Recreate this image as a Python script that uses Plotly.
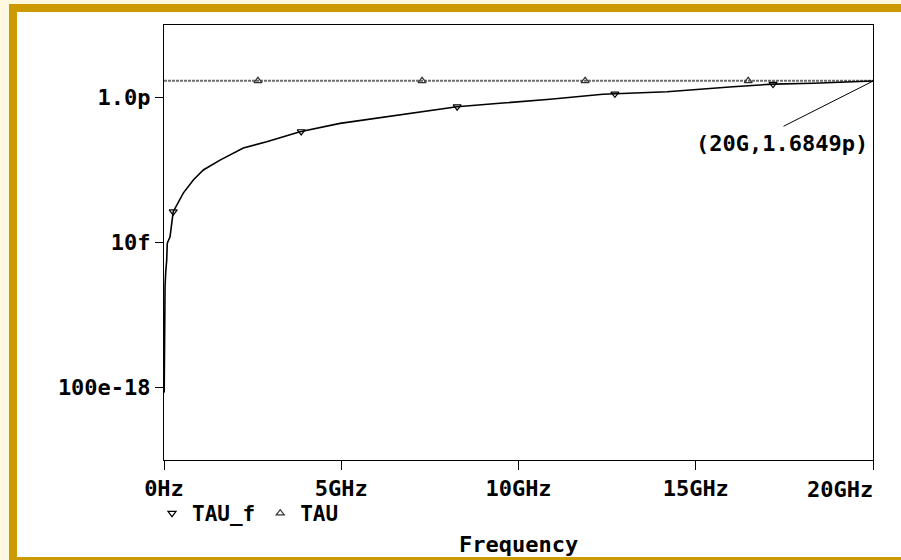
import numpy as np
import plotly.graph_objects as go

# ---------------- data ----------------
tauf_ghz = [0.005, 0.015, 0.03, 0.05, 0.076, 0.093, 0.17, 0.26, 0.544, 0.827, 1.109,
            1.58, 2.237, 2.897, 3.836, 4.965, 5.61, 6.94, 8.265, 9.56, 10.89,
            12.38, 14.19, 16.05, 17.18, 18.31, 20.0]
tauf_vals = [8.5e-17, 9.0e-16, 2.5e-15, 4.0e-15, 5.7e-15, 9.8e-15, 1.2e-14, 2.66e-14,
             4.8e-14, 7.3e-14, 1.0e-13, 1.37e-13, 2.01e-13, 2.46e-13, 3.37e-13,
             4.4e-13, 4.9e-13, 6.1e-13, 7.46e-13, 8.4e-13, 9.45e-13, 1.107e-12,
             1.20e-12, 1.41e-12, 1.53e-12, 1.57e-12, 1.6849e-12]
tau_ghz = [0.0, 20.0]
tau_vals = [1.70e-12, 1.70e-12]
tauf_marker_ghz = [0.26, 3.87, 8.27, 12.72, 17.18]
tau_marker_ghz = [2.65, 7.28, 11.88, 16.48]

x_tickvals_ghz = [0, 5, 10, 15, 20]
x_ticktext = ["0Hz", "5GHz", "10GHz", "15GHz", "20GHz"]
y_tickvals = [1e-16, 1e-14, 1e-12]
y_ticktext = ["100e-18", "10f", "1.0p"]
cursor_label = "(20G,1.6849p)"

# ---------------- layout constants ----------------
W, H = 901, 560
ML, MR, MT, MB = 164, 28, 25, 100
PW, PH = W - ML - MR, H - MT - MB
FONT = "DejaVu Sans Mono"
GOLD = "#CC9900"
CREAM = "#FFF8E1"


def px_x(p):
    return (p - ML) / PW


def px_y(p):
    return (H - MB - p) / PH


G = 1e9
tauf_hz = [f * G for f in tauf_ghz]
tau_hz = [f * G for f in tau_ghz]
tauf_m_hz = [f * G for f in tauf_marker_ghz]
tau_m_hz = [f * G for f in tau_marker_ghz]
tauf_m_vals = list(10 ** np.interp(tauf_m_hz, tauf_hz, np.log10(tauf_vals)))
tau_m_vals = list(10 ** np.interp(tau_m_hz, tau_hz, np.log10(tau_vals)))

fig = go.Figure()
fig.add_trace(go.Scatter(x=tau_hz, y=tau_vals, mode="lines", showlegend=False,
                         line=dict(color="#6e6e6e", width=2, dash="3px,1px")))
fig.add_trace(go.Scatter(x=tauf_hz, y=tauf_vals, mode="lines", showlegend=False,
                         line=dict(color="black", width=1.6)))
fig.add_trace(go.Scatter(x=tauf_m_hz, y=tauf_m_vals, mode="markers", name="TAU_f",
                         marker=dict(symbol="triangle-down-open", size=7, color="black",
                                     line=dict(width=1.2))))
fig.add_trace(go.Scatter(x=tau_m_hz, y=tau_m_vals, mode="markers", name="TAU",
                         marker=dict(symbol="triangle-up-open", size=7, color="#333",
                                     line=dict(width=1.2))))

shapes = [
    dict(type="rect", xref="paper", yref="paper", layer="below",
         x0=px_x(9), x1=px_x(910), y0=px_y(570), y1=px_y(4),
         fillcolor=GOLD, line=dict(width=0)),
    dict(type="rect", xref="paper", yref="paper", layer="below",
         x0=px_x(17), x1=px_x(910), y0=px_y(557), y1=px_y(12),
         fillcolor="white", line=dict(width=0)),
]

bold = dict(family=FONT, size=22, color="black", weight="bold")
# axis shows all tick labels except the last, which is right-aligned to its tick
axis_ticktext = x_ticktext[:-1] + [""]
annotations = [
    dict(x=x_tickvals_ghz[-1] * G, y=px_y(489), xref="x", yref="paper",
         text=x_ticktext[-1], showarrow=False, xanchor="right", yanchor="middle",
         xshift=2, font=bold),
    # cursor label text
    dict(x=20 * G, y=np.log10(tauf_vals[-1]), xref="x", yref="y",
         text=cursor_label, showarrow=False, xshift=-91, yshift=-62,
         font=bold),
    # cursor leader line
    dict(x=20 * G, y=np.log10(tauf_vals[-1]), xref="x", yref="y",
         text="", showarrow=True, arrowhead=0, arrowwidth=1,
         arrowcolor="black", axref="pixel", ayref="pixel", ax=-91, ay=46),
    dict(x=0.5, y=px_y(544), xref="paper", yref="paper", text="Frequency",
         showarrow=False, yanchor="middle", font=bold),
]

fig.update_layout(
    width=W, height=H, autosize=False,
    margin=dict(l=ML, r=MR, t=MT, b=MB, autoexpand=False),
    paper_bgcolor=CREAM, plot_bgcolor="white",
    font=bold,
    shapes=shapes, annotations=annotations,
    legend=dict(orientation="h", x=px_x(152), y=px_y(493), xanchor="left",
                yanchor="top", bgcolor="rgba(0,0,0,0)",
                font=dict(family=FONT, size=21, color="black", weight="bold")),
    xaxis=dict(range=[0, 20 * G], tickvals=[v * G for v in x_tickvals_ghz],
               ticktext=axis_ticktext, ticks="outside", ticklen=9, tickwidth=1,
               tickcolor="black", showline=True, linecolor="black", linewidth=1,
               mirror=True, showgrid=False, zeroline=False, automargin=False,
               tickfont=bold),
    yaxis=dict(type="log", range=[-17, -11], tickvals=y_tickvals, ticktext=y_ticktext,
               ticks="outside", ticklen=8, tickwidth=1, tickcolor="black",
               showline=True, linecolor="black", linewidth=1, mirror=True,
               showgrid=False, zeroline=False, automargin=False, tickfont=bold),
)

fig.write_html("out.html",
               config={"displayModeBar": False},
               post_script="document.body.style.margin='0px';"
                           "document.body.style.background='" + CREAM + "';")
